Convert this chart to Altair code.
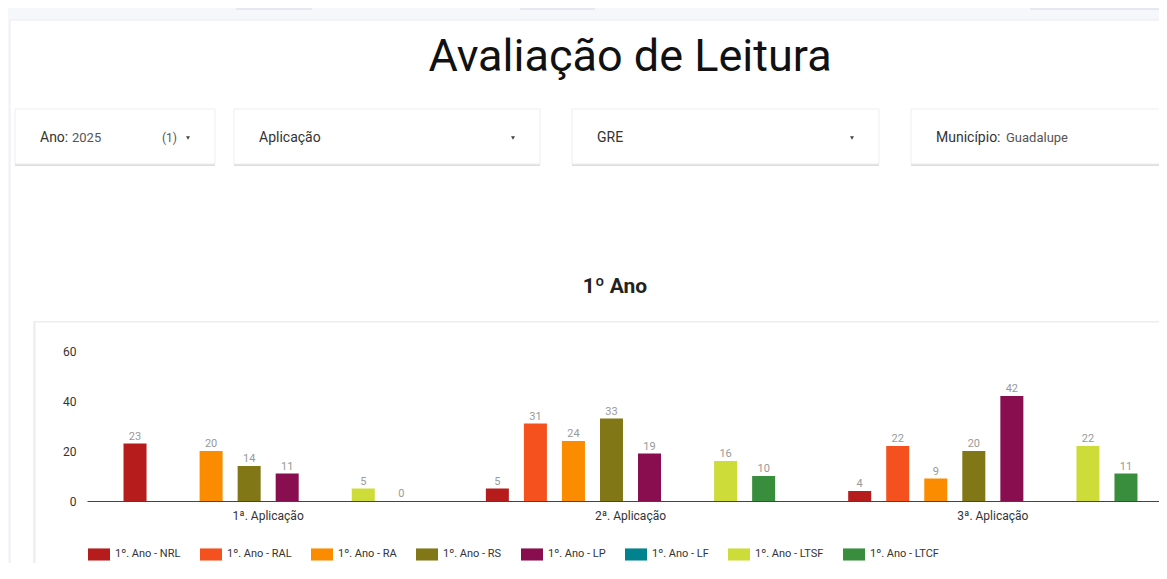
import altair as alt
import pandas as pd

# ---------------- data ----------------
groups = ["1ª. Aplicação", "2ª. Aplicação", "3ª. Aplicação"]
series = ["1º. Ano - NRL", "1º. Ano - RAL", "1º. Ano - RA", "1º. Ano - RS",
          "1º. Ano - LP", "1º. Ano - LF", "1º. Ano - LTSF", "1º. Ano - LTCF"]
colors = ["#b71c1c", "#f4511e", "#fb8c00", "#827717",
          "#880e4f", "#00838f", "#cddc39", "#388e3c"]
nrl = [23, 5, 4]
ral = [None, 31, 22]
ra = [20, 24, 9]
rs = [14, 33, 20]
lp = [11, 19, 42]
lf = [None, None, None]
ltsf = [5, 16, 22]
ltcf = [0, 10, 11]
y_ticks = [0, 20, 40, 60]

title_text = "Avaliação de Leitura"
subtitle_text = "1º Ano"
filter_labels = ["Ano:", "2025", "(1)", "Aplicação", "GRE", "Município:", "Guadalupe"]

values = [nrl, ral, ra, rs, lp, lf, ltsf, ltcf]
rows = []
for s, vals in zip(series, values):
    for g, v in zip(groups, vals):
        rows.append({"group": g, "series": s, "value": v})
df = pd.DataFrame(rows)

FONT = "Roboto"
# plot origin is at page (87, 351)
OX, OY = 87, 351


def px(x):
    return x - OX


def py(y):
    return y - OY


one = alt.Data(values=[{}])


def rect(x1, x2, y1, y2, fill, stroke=None, sw=1, opacity=1):
    kw = dict(fill=fill, opacity=opacity)
    if stroke:
        kw.update(stroke=stroke, strokeWidth=sw)
    return alt.Chart(one).mark_rect(**kw).encode(
        x=alt.value(px(x1)), x2=alt.value(px(x2)),
        y=alt.value(py(y1)), y2=alt.value(py(y2)))


def txt(s, x, y, size, color="#333", weight="normal", align="left", baseline="middle"):
    return alt.Chart(one).mark_text(
        text=s, font=FONT, fontSize=size, color=color, fontWeight=weight,
        align=align, baseline=baseline).encode(x=alt.value(px(x)), y=alt.value(py(y)))


def caret(x, y):
    return alt.Chart(one).mark_point(
        shape="triangle-down", filled=True, size=16, color="#444", opacity=1
    ).encode(x=alt.value(px(x)), y=alt.value(py(y)))


deco = [
    rect(8, 1200, 8, 700, "#f5f7fa"),
    rect(236, 312, 8, 10, "#e4e9f1"),
    rect(520, 595, 8, 10, "#e4e9f1"),
    rect(1030, 1200, 8, 10, "#e4e9f1"),
    rect(10, 1200, 20, 700, "#ffffff", stroke="#ebebeb"),
]
boxes = [(15, 215), (234, 540), (572, 879), (911, 1200)]
for a, b in boxes:
    deco.append(rect(a, b, 111, 166, "#d6d6d6", opacity=0.8))
    deco.append(rect(a, b, 109, 164, "#ffffff", stroke="#eeeeee"))

deco += [
    txt(title_text, 630, 71, 45, color="#111", align="center", baseline="alphabetic"),
    txt(filter_labels[0], 40, 138, 14, color="#333"),
    txt(filter_labels[1], 72, 138, 13, color="#555"),
    txt(filter_labels[2], 162, 138, 12, color="#555"),
    caret(188, 138),
    txt(filter_labels[3], 259, 138, 14, color="#333"),
    caret(513, 138),
    txt(filter_labels[4], 597, 138, 14, color="#333"),
    caret(852, 138),
    txt(filter_labels[5], 936, 138, 14, color="#333"),
    txt(filter_labels[6], 1006, 138, 13, color="#555"),
    txt(subtitle_text, 615, 293, 21, color="#222", weight="bold", align="center",
        baseline="alphabetic"),
    rect(33, 1200, 321, 700, "#f0f0f0"),
    rect(35, 1200, 322, 700, "#ffffff", stroke="#ececec"),
]

base = alt.Chart(df).transform_filter("isValid(datum.value)")

x_enc = alt.X("group:N", sort=groups,
              scale=alt.Scale(domain=groups, range=[0, 1087], paddingInner=0, paddingOuter=0),
              axis=alt.Axis(title=None, labelAngle=0, ticks=False, domainColor="#444",
                            domainWidth=1, labelColor="#333", labelFontSize=12, labelFont=FONT,
                            labelPadding=9, zindex=2))
xo_enc = alt.XOffset("series:N",
                     scale=alt.Scale(domain=series, paddingInner=0.395, paddingOuter=0.96))
y_enc = alt.Y("value:Q", scale=alt.Scale(domain=[0, 60]),
              axis=alt.Axis(title=None, values=y_ticks, grid=False, domain=False, ticks=False,
                            labelPadding=11, labelFontSize=12, labelFont=FONT,
                            labelColor="#333", zindex=2))

bars = base.mark_bar().encode(
    x=x_enc, xOffset=xo_enc, y=y_enc,
    color=alt.Color("series:N", scale=alt.Scale(domain=series, range=colors),
                    legend=alt.Legend(title=None, orient="none", legendX=1, legendY=192,
                                      direction="horizontal", columns=8,
                                      symbolType="M-1,-0.55H1V0.55H-1Z", symbolSize=484,
                                      symbolStrokeWidth=0, symbolOpacity=1,
                                      labelFont=FONT, labelFontSize=11, labelColor="#333",
                                      labelOffset=5, columnPadding=19, zindex=2)),
)
labels = base.mark_text(baseline="bottom", dy=-2, font=FONT, fontSize=11,
                        color="#999999").encode(
    x=x_enc, xOffset=xo_enc, y=y_enc, text=alt.Text("value:Q"))

chart = alt.layer(*deco, bars, labels).properties(
    width=1072, height=150,
    padding={"left": 79, "top": 343, "right": 0, "bottom": 62},
    autosize=alt.AutoSizeParams(type="none"),
    background="#ffffff",
).configure_view(stroke=None)

chart.save("out.html", embed_options={"renderer": "svg", "actions": False})
